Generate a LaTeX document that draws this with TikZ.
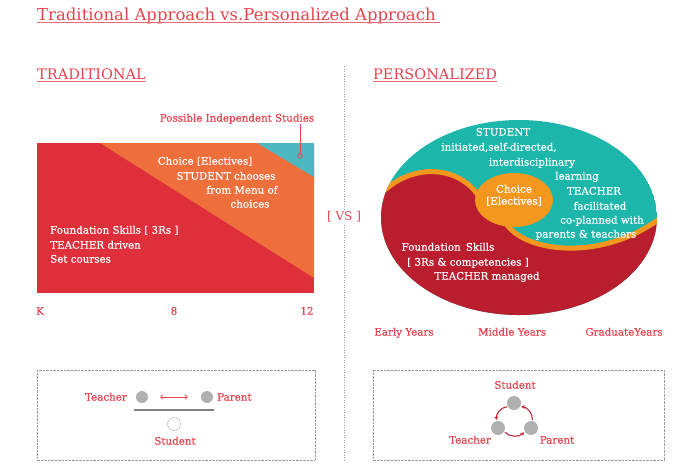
\documentclass[tikz,border=0pt]{standalone}
\usepackage{fontspec}
\setmainfont{DejaVu Serif}
\newfontfamily\slab{DejaVu Serif}[FakeBold=0.5]
\usepackage{tikz}
\usetikzlibrary{arrows.meta}
\definecolor{tred}{HTML}{E8434F}
\definecolor{bred}{HTML}{DF2F3A}
\definecolor{borange}{HTML}{EE6E3C}
\definecolor{bteal}{HTML}{4DB8C0}
\definecolor{pteal}{HTML}{1DB6AB}
\definecolor{porange}{HTML}{F4971F}
\definecolor{pred}{HTML}{BA1E2E}
\definecolor{cycred}{HTML}{C8283A}
\definecolor{dotgray}{HTML}{9A9A9A}
\definecolor{ballgray}{HTML}{B0B0B0}
\tikzset{head/.style={text=tred,inner sep=0pt,anchor=base west},
         uline/.style={draw=tred!80,line width=0.9pt},
         wtext/.style={text=white,inner sep=0pt,anchor=mid,font=\slab\fontsize{10.3}{12}\selectfont},
         rtext/.style={text=tred,inner sep=0pt,anchor=mid,font=\slab\fontsize{10.3}{12}\selectfont},
         dotbox/.style={draw=dotgray,line width=0.8pt,dash pattern=on 0.8pt off 0.6pt},
         divider/.style={draw=dotgray,line width=1pt,dash pattern=on 1pt off 1.5pt},
         ball/.style={circle,fill=ballgray,minimum size=12pt,inner sep=0pt},
         hollow/.style={circle,draw=ballgray!70,line width=0.8pt,fill=white,minimum size=13pt,inner sep=0pt},
         pair/.style={draw=tred,line width=0.6pt,{To[length=3pt,width=5pt]}-{To[length=3pt,width=5pt]}},
         cyc/.style={draw=cycred,line width=1.1pt,-{Stealth[length=3.5pt,width=4pt]},bend right=45,shorten >=1pt,shorten <=1pt}}

\begin{document}
\begin{tikzpicture}[x=1pt,y=-1pt]
\useasboundingbox[fill=white] (0,0) rectangle (684,474);
% headings
\node[head,font=\fontsize{16.5}{19}\selectfont] (title) at (37,20) {Traditional Approach vs.Personalized Approach};
\draw[uline] ([yshift=-2pt]title.base west) -- ([xshift=4pt,yshift=-2pt]title.base east);
\node[head,font=\fontsize{14.5}{17}\selectfont] (trad) at (37,79) {TRADITIONAL};
\draw[uline] ([yshift=-2pt]trad.base west) -- ([yshift=-2pt]trad.base east);
\node[head,font=\fontsize{14.5}{17}\selectfont] (pers) at (373,79) {PERSONALIZED};
\draw[uline] ([yshift=-2pt]pers.base west) -- ([yshift=-2pt]pers.base east);

% traditional block
\fill[bred] (37,143) rectangle (314,293);
\fill[borange] (100,143) -- (314,143) -- (314,278) -- cycle;
\fill[bteal] (257,143) -- (314,143) -- (314,177) -- cycle;
\node[rtext] (indep) at (237,119) {Possible Independent Studies};
\coordinate (indepdot) at (300,156);
\draw[tred,line width=1pt] (indep.south -| indepdot) -- (indepdot);
\draw[tred,line width=0.9pt,fill=bteal] (indepdot) circle (2.3pt);
\node[wtext] (ch1) at (205,162) {Choice [Electives]};
\node[wtext] (ch2) at (226,177) {STUDENT chooses};
\node[wtext] (ch3) at (242,191) {from Menu of};
\node[wtext] (ch4) at (250,205) {choices};
\node[wtext,anchor=mid west] (fd1) at (50,231) {Foundation Skills [ 3Rs ]};
\node[wtext,anchor=mid west] (fd2) at (50,246) {TEACHER driven};
\node[wtext,anchor=mid west] (fd3) at (50,260) {Set courses};
\node[rtext] (gk) at (40,312) {K};
\node[rtext] (g8) at (174,312) {8};
\node[rtext] (g12) at (307,312) {12};

% divider
\node[text=tred,inner sep=2pt,font=\fontsize{12}{14}\selectfont] (vs) at (344,217) {[ VS ]};
\draw[divider] (344,66) -- (vs.north);
\draw[divider] (vs.south) -- (344,462);

% personalized block
\begin{scope}
\clip (519,217.5) ellipse (138pt and 97.5pt);
\fill[pteal] (519,217.5) ellipse (138pt and 97.5pt);
\fill[pred,draw=porange,line width=5pt] (365,216) .. controls (392,162) and (458,158) .. (481,200)
  -- (505,222) .. controls (525,255) and (610,262) .. (668,212) -- (680,330) -- (360,330) -- cycle;
\end{scope}
\fill[porange] (514,200) ellipse (39pt and 27pt);
\node[wtext,align=center] (choice) at (514,202) {Choice\\{}[Electives]};
\node[wtext] (st1) at (503,133) {STUDENT};
\node[wtext] (st2) at (499,148) {initiated,self-directed,};
\node[wtext] (st3) at (532,163) {interdisciplinary};
\node[wtext] (st4) at (577,177) {learning};
\node[wtext] (st5) at (594,192) {TEACHER};
\node[wtext] (st6) at (600,207) {facilitated};
\node[wtext] (st7) at (602,221) {co-planned with};
\node[wtext] (st8) at (586,235) {parents \& teachers};
\node[wtext] (fs1) at (448,248) {Foundation\enspace Skills};
\node[wtext] (fs2) at (468,263) {[ 3Rs \& competencies ]};
\node[wtext] (fs3) at (487,277) {TEACHER managed};
\node[rtext] (early) at (404,333) {Early Years};
\node[rtext] (middle) at (512,333) {Middle Years};
\node[rtext] (grad) at (624,333) {GraduateYears};

% traditional relations
\draw[dotbox] (37,370) rectangle (315,460);
\node[ball] (lt) at (142,397) {};
\node[ball] (lp) at (207,397) {};
\node[hollow] (ls) at (174,424) {};
\node[rtext,anchor=mid east] (ltl) at (127,398) {Teacher};
\node[rtext,anchor=mid west] (lpl) at (217,398) {Parent};
\node[rtext] (lsl) at (175,442) {Student};
\draw[pair,shorten <=12pt,shorten >=13pt] (lt.east) -- (lp.west);
\draw[draw=gray,line width=1.4pt] (134,410) -- (214,410);

% personalized relations
\draw[dotbox] (373,370) rectangle (664,460);
\node[ball,minimum size=14pt] (rs) at (514,403) {};
\node[ball,minimum size=14pt] (rt) at (498,428) {};
\node[ball,minimum size=14pt] (rp) at (531,428) {};
\node[rtext] (rsl) at (515,386) {Student};
\node[rtext] (rtl) at (470,441) {Teacher};
\node[rtext] (rpl) at (557,441) {Parent};
\draw[cyc] (rs.210) to (rt.100);
\draw[cyc] (rt.-30) to (rp.210);
\draw[cyc] (rp.80) to (rs.-30);
\end{tikzpicture}
\end{document}
